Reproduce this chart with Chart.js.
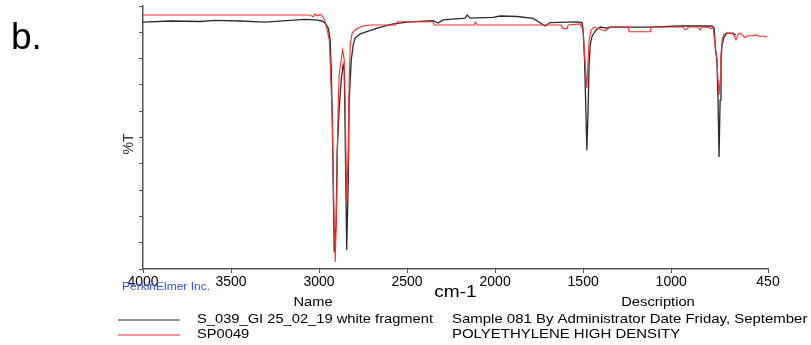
<!DOCTYPE html>
<html>
<head>
<meta charset="utf-8">
<script src="https://cdn.jsdelivr.net/npm/chart.js@4"></script>
<style>
  html, body { margin: 0; padding: 0; background: #fff; }
  #wrap { width: 811px; height: 345px; }
</style>
</head>
<body>
<div id="wrap"><canvas id="ir" width="811" height="345"></canvas></div>
<script>
// FT-IR overlay: sample spectrum vs library match (HDPE)
const xTickValues = [4000, 3500, 3000, 2500, 2000, 1500, 1000, 450];

const seriesNames = ['S_039_GI 25_02_19 white fragment', 'SP0049'];
const seriesDescriptions = ['Sample 081 By Administrator Date Friday, September', 'POLYETHYLENE HIGH DENSITY'];
const seriesColors = ['#2b2b2b', '#ff2a2a'];

// sample spectrum (cm-1 / %T)
const sampleWn = [4000, 3845, 3675, 3590, 3448, 3306, 3164, 3079, 3022, 2982, 2965, 2948, 2937, 2931, 2925, 2920,
  2914, 2903, 2897, 2886, 2874, 2863, 2857, 2852, 2843, 2834, 2829, 2817, 2806, 2795, 2766, 2670, 2579, 2483,
  2352, 2324, 2295, 2170, 2159, 2142, 2011, 1971, 1875, 1784, 1716, 1688, 1534, 1506, 1500, 1492, 1486, 1479,
  1472, 1466, 1460, 1449, 1426, 1403, 1369, 1347, 1119, 950, 768, 756, 748, 740, 734, 728, 722, 717, 711, 700,
  683, 649, 632];
const sampleT = [93.9, 94.3, 94.1, 94.5, 94.3, 93.9, 94.5, 94.9, 94.7, 94.3, 93.5, 91.6, 87.1, 75.7, 58.6, 33.8,
  6.5, 16.7, 45.2, 60.5, 71.9, 77.6, 75.7, 52.9, 7.2, 33.8, 64.3, 79.5, 85.2, 87.8, 89.4, 91.6, 93.2, 94.0,
  94.4, 93.5, 94.7, 95.4, 96.6, 95.4, 95.7, 96.2, 96.0, 95.3, 92.4, 93.7, 94.0, 93.7, 90.9, 79.5, 64.3, 45.2,
  60.5, 77.6, 85.2, 88.6, 90.9, 92.0, 91.6, 92.0, 92.0, 92.4, 92.4, 91.6, 83.3, 79.5, 64.3, 42.6, 64.3, 79.5,
  85.2, 88.2, 89.7, 89.7, 89.0];

// library reference spectrum
const refWn = [4000, 3050, 3033, 3022, 3010, 2993, 2976, 2965, 2954, 2942, 2937, 2925, 2917, 2908, 2900, 2892,
  2886, 2874, 2866, 2857, 2852, 2843, 2834, 2829, 2823, 2812, 2795, 2778, 2749, 2709, 2567, 2555, 2352, 2346,
  2119, 2113, 2102, 1625, 1613, 1591, 1585, 1517, 1500, 1492, 1486, 1479, 1472, 1466, 1455, 1438, 1375, 1347,
  1244, 1239, 1119, 1113, 932, 921, 898, 847, 836, 825, 785, 773, 762, 748, 740, 734, 728, 722, 717, 711, 700,
  683, 649, 632, 620, 609, 581, 564, 541, 518, 495, 478, 456];
const refT = [96.6, 96.6, 95.8, 97.0, 96.2, 96.8, 95.8, 93.9, 90.9, 87.1, 79.5, 56.7, 26.2, 2.7, 26.2, 60.5,
  73.8, 79.5, 83.3, 79.5, 64.3, 25.5, 45.2, 71.9, 85.2, 89.7, 90.9, 91.6, 92.4, 92.8, 92.8, 94.0, 94.0, 92.8,
  92.8, 93.9, 92.8, 92.8, 91.4, 91.4, 92.8, 93.2, 90.9, 81.4, 75.7, 68.8, 79.5, 87.1, 90.9, 92.0, 90.5, 92.0,
  92.0, 90.2, 90.2, 92.0, 92.0, 90.9, 92.0, 92.0, 90.9, 92.0, 91.8, 91.3, 92.0, 83.3, 79.5, 71.9, 66.2, 71.9,
  81.4, 87.1, 89.4, 89.7, 89.5, 87.1, 89.4, 89.7, 88.0, 88.8, 88.6, 89.0, 88.4, 88.6, 88.2];

const toPoints = (xs, ys) => xs.map((x, i) => ({ x: x, y: ys[i] }));

const FONT = '"Liberation Sans", Arial, sans-serif';

// the scanned figure is a bit stretched sideways, so text is widened a little
function wideText(ctx, text, x, y, align, stretch) {
  ctx.save();
  ctx.translate(x, y);
  ctx.scale(stretch, 1);
  ctx.textAlign = align;
  ctx.fillText(text, 0, 0);
  ctx.restore();
}

// extra text around the plot: panel letter, axis names, name/description table
const annotations = {
  id: 'annotations',
  afterDraw(chart) {
    const ctx = chart.ctx;
    const area = chart.chartArea;
    ctx.save();
    ctx.fillStyle = '#000';

    ctx.textBaseline = 'alphabetic';
    ctx.font = '37px ' + FONT;
    ctx.textAlign = 'left';
    ctx.fillText('b.', 11, 49);

    ctx.textBaseline = 'middle';
    // y title, rotated
    ctx.save();
    ctx.translate(129, 144);
    ctx.rotate(-Math.PI / 2);
    ctx.textAlign = 'center';
    ctx.fillStyle = '#333';
    ctx.font = '14px ' + FONT;
    ctx.fillText('%T', 0, 0);
    ctx.restore();

    ctx.font = '17px ' + FONT;
    wideText(ctx, 'cm-1', (area.left + area.right) / 2, 292, 'center', 1.12);

    ctx.fillStyle = '#3050ff';
    ctx.font = '10px ' + FONT;
    wideText(ctx, 'PerkinElmer Inc.', 122, 287, 'left', 1.2);

    ctx.fillStyle = '#000';
    ctx.font = '13px ' + FONT;
    wideText(ctx, 'Name', 313, 302, 'center', 1.13);
    wideText(ctx, 'Description', 658, 302, 'center', 1.13);

    const rows = [319, 334];
    seriesNames.forEach((name, i) => {
      ctx.strokeStyle = seriesColors[i];
      ctx.lineWidth = 1.2;
      ctx.beginPath();
      ctx.moveTo(118, rows[i] + 1);
      ctx.lineTo(180, rows[i] + 1);
      ctx.stroke();
      ctx.fillStyle = '#000';
      wideText(ctx, name, 197, rows[i], 'left', 1.13);
      wideText(ctx, seriesDescriptions[i], 452, rows[i], 'left', 1.15);
    });
    ctx.restore();
  }
};

new Chart(document.getElementById('ir'), {
  type: 'line',
  data: {
    datasets: [
      {
        label: seriesNames[0],
        data: toPoints(sampleWn, sampleT),
        borderColor: seriesColors[0],
        borderWidth: 1.3,
        pointRadius: 0,
        tension: 0,
        order: 2
      },
      {
        label: seriesNames[1],
        data: toPoints(refWn, refT),
        borderColor: seriesColors[1],
        borderWidth: 1.1,
        pointRadius: 0,
        tension: 0,
        order: 1
      }
    ]
  },
  options: {
    responsive: false,
    animation: false,
    layout: { padding: { left: 134, right: 43, top: 6, bottom: 54 } },
    plugins: { legend: { display: false }, tooltip: { enabled: false } },
    scales: {
      x: {
        type: 'linear',
        reverse: true,
        min: 450,
        max: 4000,
        afterBuildTicks: (scale) => { scale.ticks = xTickValues.map(v => ({ value: v })); },
        afterFit: (scale) => { scale.height = 22; },
        border: { color: '#555', width: 1.5 },
        grid: { drawOnChartArea: false, drawTicks: true, tickLength: 4, color: '#555' },
        ticks: {
          autoSkip: false,
          maxRotation: 0,
          padding: 1,
          color: '#000',
          font: { family: FONT, size: 14 },
          callback: (v) => String(v)
        }
      },
      y: {
        min: 0,
        max: 100,
        afterFit: (scale) => { scale.width = 9; },
        border: { color: '#555', width: 1.5 },
        grid: { drawOnChartArea: false, drawTicks: true, tickLength: 4, color: '#555' },
        ticks: { stepSize: 10, display: false }
      }
    }
  },
  plugins: [annotations]
});
</script>
</body>
</html>
